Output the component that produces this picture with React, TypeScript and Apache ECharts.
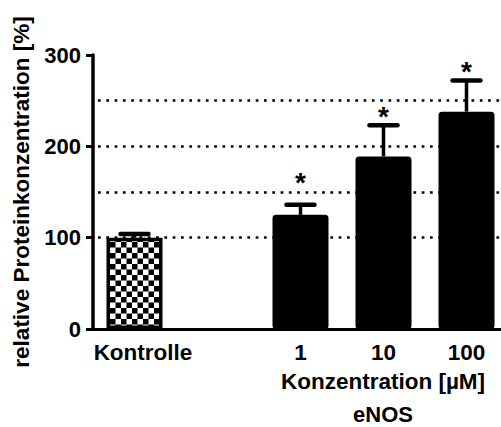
import React, { useEffect, useRef } from "react";
import * as echarts from "echarts";

const categories = ["Kontrolle", "", "1", "10", "100"];
const means: (number | null)[] = [100, null, 125, 189, 238];
const upperErr: (number | null)[] = [104, null, 136, 223, 272];
const starLevels: (number | null)[] = [null, null, 166, 238, 287];
const gridLevels = [100, 150, 200, 250];
const yTitle = "relative Proteinkonzentration [%]";
const xTitle = "Konzentration [µM]";
const subTitle = "eNOS";

const FONT = "'Liberation Sans', Arial, Helvetica, sans-serif";

function makeChecker(): HTMLCanvasElement {
  const c = document.createElement("canvas");
  c.width = 22;
  c.height = 22;
  const ctx = c.getContext("2d")!;
  ctx.fillStyle = "#fff";
  ctx.fillRect(0, 0, 22, 22);
  ctx.fillStyle = "#000";
  ctx.fillRect(0, 0, 11, 11);
  ctx.fillRect(11, 11, 11, 11);
  return c;
}

export default function App() {
  const ref = useRef<HTMLDivElement>(null);
  useEffect(() => {
    if (!ref.current) return;
    const chart = echarts.init(ref.current, null, { renderer: "svg" });
    const checker = makeChecker();

    const barData = means.map((v, i) =>
      v == null
        ? "-"
        : i === 0
        ? {
            value: v,
            itemStyle: {
              color: { image: checker, repeat: "repeat", scaleX: 0.5, scaleY: 0.5 } as any,
              borderColor: "#000",
              borderWidth: 3.5,
              borderRadius: 0,
            },
          }
        : { value: v }
    );

    const errData = means
      .map((m, i) => (m == null ? null : [i, m, upperErr[i], starLevels[i] == null ? -1 : starLevels[i]]))
      .filter((d) => d != null);

    chart.setOption({
      animation: false,
      backgroundColor: "#fff",
      grid: { left: 93, top: 55, right: 0, height: 274 },
      xAxis: {
        type: "category",
        data: categories,
        axisLine: { lineStyle: { color: "#000", width: 3 } },
        axisTick: { show: false },
        axisLabel: {
          color: "#000",
          fontFamily: FONT,
          fontWeight: "bold",
          fontSize: 22.5,
          margin: 12,
          interval: 0,
          formatter: (v: string) => (v === "Kontrolle" ? "{k|Kontrolle}" : v),
          rich: {
            k: {
              padding: [0, 0, 0, 17],
              color: "#000",
              fontFamily: FONT,
              fontWeight: "bold",
              fontSize: 22.5,
            },
          },
        },
      },
      yAxis: {
        type: "value",
        min: 0,
        max: 300,
        interval: 100,
        name: yTitle,
        nameLocation: "middle",
        nameGap: 53,
        nameTextStyle: {
          color: "#000",
          fontFamily: FONT,
          fontWeight: "bold",
          fontSize: 22.5,
        },
        axisLine: { show: true, lineStyle: { color: "#000", width: 3.5 } },
        axisTick: { show: true, length: 7, lineStyle: { color: "#000", width: 3 } },
        axisLabel: {
          color: "#000",
          fontFamily: FONT,
          fontWeight: "bold",
          fontSize: 22,
          margin: 12,
        },
        splitLine: { show: false },
      },
      graphic: [
        {
          type: "text",
          x: 383,
          y: 381,
          style: {
            text: xTitle,
            fill: "#000",
            font: `bold 22.5px ${FONT}`,
            textAlign: "center",
            textVerticalAlign: "middle",
          },
        },
        {
          type: "text",
          x: 383,
          y: 414,
          style: {
            text: subTitle,
            fill: "#000",
            font: `bold 22px ${FONT}`,
            textAlign: "center",
            textVerticalAlign: "middle",
          },
        },
      ],
      series: [
        {
          type: "bar",
          data: barData,
          barWidth: 56,
          z: 2,
          itemStyle: { color: "#000", borderColor: "#000", borderWidth: 3, borderRadius: 2 },
          markLine: {
            silent: true,
            z: 1,
            symbol: ["none", "none"],
            label: { show: false },
            lineStyle: { color: "#000", width: 2.7, type: [2.7, 5.6], dashOffset: -5 },
            emphasis: { disabled: true },
            data: gridLevels.map((v) => ({ yAxis: v })),
          },
        },
        {
          type: "custom",
          z: 3,
          data: errData,
          encode: { x: 0, y: 2 },
          renderItem: (params: any, api: any) => {
            const base = api.coord([api.value(0), api.value(1)]);
            const top = api.coord([api.value(0), api.value(2)]);
            const star = api.value(3);
            const children: any[] = [
              {
                type: "line",
                shape: { x1: base[0], y1: base[1], x2: top[0], y2: top[1] },
                style: { stroke: "#000", lineWidth: 3.5 },
              },
              {
                type: "line",
                shape: { x1: top[0] - 14, y1: top[1], x2: top[0] + 14, y2: top[1] },
                style: { stroke: "#000", lineWidth: 4.5, lineCap: "round" },
              },
            ];
            if (star > 0) {
              const sp = api.coord([api.value(0), star]);
              children.push({
                type: "text",
                x: sp[0],
                y: sp[1] + 5,
                style: {
                  text: "*",
                  fill: "#000",
                  font: `bold 28px ${FONT}`,
                  textAlign: "center",
                  textVerticalAlign: "middle",
                },
              });
            }
            return { type: "group", children };
          },
        },
      ],
    });
    return () => chart.dispose();
  }, []);
  return (
    <div
      style={{
        position: "absolute",
        left: 0,
        top: 0,
        width: 501,
        height: 427,
        overflow: "hidden",
        background: "#fff",
      }}
    >
      <div ref={ref} style={{ width: 508, height: 427 }} />
    </div>
  );
}
